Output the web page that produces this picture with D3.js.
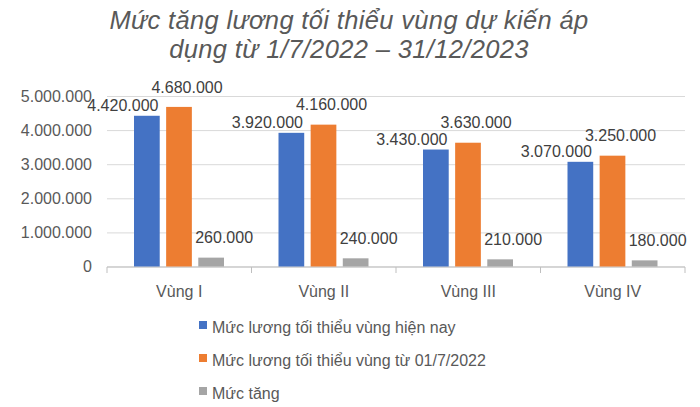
<!DOCTYPE html>
<html>
<head>
<meta charset="utf-8">
<script src="https://cdn.jsdelivr.net/npm/d3@7"></script>
<style>
  html, body { margin: 0; padding: 0; background: #fff; }
  svg { display: block; font-family: "Liberation Sans", Arial, sans-serif; }
</style>
</head>
<body>
<svg id="chart" width="700" height="407"></svg>
<script>
// values
const categories = ['Vùng I', 'Vùng II', 'Vùng III', 'Vùng IV'];
const seriesNames = [
  'Mức lương tối thiểu vùng hiện nay',
  'Mức lương tối thiểu vùng từ 01/7/2022',
  'Mức tăng',
];
const currentWage = [4420000, 3920000, 3430000, 3070000];
const newWage = [4680000, 4160000, 3630000, 3250000];
const increase = [260000, 240000, 210000, 180000];
const yTicks = [0, 1000000, 2000000, 3000000, 4000000, 5000000];
const titleLines = ['Mức tăng lương tối thiểu vùng dự kiến áp', 'dụng từ 1/7/2022 – 31/12/2023'];

const colors = ['#4472C4', '#ED7D31', '#A5A5A5'];
// Excel nudged the data labels; rough per-series offset from the bar top centre
const labelDx = [-24, 8, 13];
const labelDy = [-10, -20, -20];

const series = [currentWage, newWage, increase];
const rows = categories.map((c, i) => ({ cat: c, vals: series.map(s => s[i]) }));

const svg = d3.select('#chart');
const textColor = '#595959';
const fmt = v => d3.format(',')(v).replace(/,/g, '.');

const x = d3.scaleBand().domain(categories).range([107, 685]);
const xs = d3.scaleBand().domain(d3.range(series.length))
  .range([27, x.bandwidth() - 27.5]).paddingInner(0.2);
const y = d3.scaleLinear().domain([0, 5000000]).range([266.5, 96]);

// title
svg.append('g').selectAll('text')
  .data(titleLines)
  .join('text')
  .attr('x', 349)
  .attr('y', (d, i) => 29 + i * 29)
  .attr('text-anchor', 'middle')
  .attr('font-size', 25.5)
  .attr('letter-spacing', 0.35)
  .attr('font-style', 'italic')
  .attr('fill', textColor)
  .text(d => d);

// grid + y labels
const yAxis = svg.append('g')
  .attr('transform', 'translate(107,0)')
  .call(d3.axisLeft(y).tickValues(yTicks).tickSize(-578).tickFormat(fmt).tickPadding(15));
yAxis.select('.domain').remove();
yAxis.selectAll('.tick line').attr('stroke', '#d9d9d9');
yAxis.selectAll('.tick text')
  .attr('font-size', 16).attr('fill', textColor)
  .attr('font-family', '"Liberation Sans", Arial, sans-serif');

// x axis
const xAxis = svg.append('g').attr('transform', 'translate(0,267)');
xAxis.append('line')
  .attr('x1', 107).attr('x2', 685)
  .attr('stroke', '#bfbfbf');
xAxis.selectAll('.sep')
  .data(categories.concat(['end']))
  .join('line')
  .attr('class', 'sep')
  .attr('x1', (d, i) => x.range()[0] + i * x.step())
  .attr('x2', (d, i) => x.range()[0] + i * x.step())
  .attr('y1', 0).attr('y2', 6)
  .attr('stroke', '#bfbfbf');
xAxis.selectAll('.cat')
  .data(categories)
  .join('text')
  .attr('class', 'cat')
  .attr('x', d => x(d) + x.bandwidth() / 2)
  .attr('y', 30)
  .attr('text-anchor', 'middle')
  .attr('font-size', 16)
  .attr('fill', textColor)
  .text(d => d);

// bars
const groups = svg.append('g').selectAll('g')
  .data(rows)
  .join('g')
  .attr('transform', d => `translate(${x(d.cat)},0)`);

groups.selectAll('rect')
  .data(d => d.vals.map((v, k) => ({ v, k })))
  .join('rect')
  .attr('x', d => xs(d.k))
  .attr('width', xs.bandwidth())
  .attr('y', d => y(d.v))
  .attr('height', d => y(0) - y(d.v))
  .attr('fill', d => colors[d.k]);

groups.selectAll('text')
  .data(d => d.vals.map((v, k) => ({ v, k })))
  .join('text')
  .attr('x', d => xs(d.k) + xs.bandwidth() / 2 + labelDx[d.k])
  .attr('y', d => y(d.v) + labelDy[d.k])
  .attr('dy', '0.35em')
  .attr('text-anchor', 'middle')
  .attr('font-size', 16)
  .attr('fill', '#404040')
  .text(d => fmt(d.v));

// legend
const legend = svg.append('g').selectAll('g')
  .data(seriesNames)
  .join('g')
  .attr('transform', (d, i) => `translate(199,${325 + i * 33})`);
legend.append('rect')
  .attr('x', 0).attr('y', -4)
  .attr('width', 8).attr('height', 8)
  .attr('fill', (d, i) => colors[i]);
legend.append('text')
  .attr('x', 13)
  .attr('dy', '0.35em')
  .attr('y', 2)
  .attr('font-size', 16)
  .attr('fill', textColor)
  .text(d => d);
</script>
</body>
</html>
